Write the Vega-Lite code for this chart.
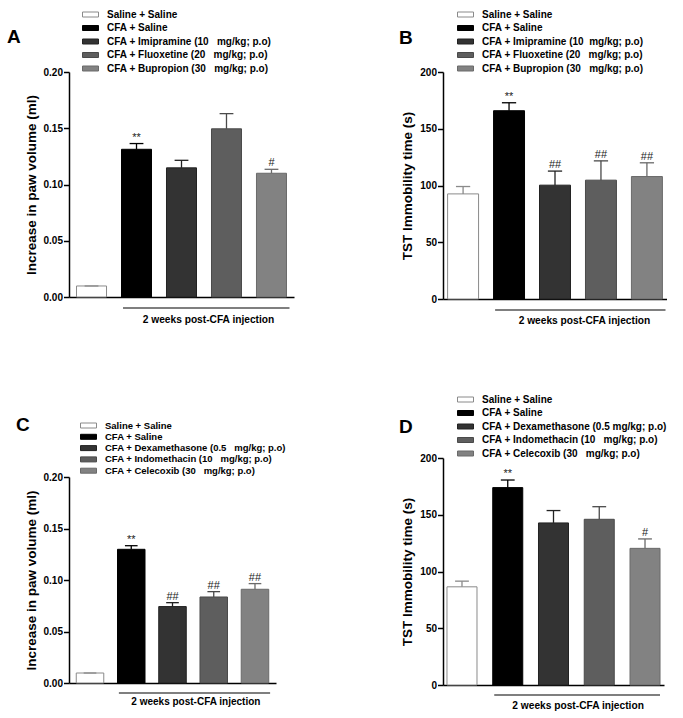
{
  "$schema": "https://vega.github.io/schema/vega-lite/v6.json",
  "background": "white",
  "padding": {"left": 7, "top": 9, "right": 0, "bottom": 0},
  "spacing": 105,
  "resolve": {"scale": {"x": "independent", "y": "independent", "fill": "independent", "stroke": "independent"}, "legend": {"fill": "independent", "stroke": "independent"}},
  "hconcat": [
    {
      "spacing": 90,
      "resolve": {"scale": {"x": "independent", "y": "independent", "fill": "independent", "stroke": "independent"}, "legend": {"fill": "independent", "stroke": "independent"}},
      "vconcat": [
        {
          "width": 225, "height": 225,
          "title": {"text": "A", "dx": -62, "offset": 0, "dy": 38},
          "data": {"values": [
            {"g": "Saline + Saline", "mean": 0.0098, "upper": 0.0098, "sig": ""},
            {"g": "CFA + Saline", "mean": 0.1313, "upper": 0.1364, "sig": "**"},
            {"g": "CFA + Imipramine (10\u00a0\u00a0 mg/kg; p.o)", "mean": 0.1148, "upper": 0.1215, "sig": ""},
            {"g": "CFA + Fluoxetine (20\u00a0\u00a0 mg/kg; p.o)", "mean": 0.1495, "upper": 0.163, "sig": ""},
            {"g": "CFA + Bupropion (30\u00a0\u00a0 mg/kg; p.o)", "mean": 0.110, "upper": 0.1135, "sig": "#"}
          ]},
          "layer": [
            {
              "mark": {"type": "bar", "strokeWidth": 1},
              "encoding": {
                "x": {"field": "g", "type": "nominal", "scale": {"domain": ["Saline + Saline", "CFA + Saline", "CFA + Imipramine (10\u00a0\u00a0 mg/kg; p.o)", "CFA + Fluoxetine (20\u00a0\u00a0 mg/kg; p.o)", "CFA + Bupropion (30\u00a0\u00a0 mg/kg; p.o)"], "paddingInner": 0.333, "paddingOuter": 0.167}, "axis": {"labels": false, "ticks": false, "title": null}},
                "y": {"field": "mean", "type": "quantitative", "scale": {"domain": [0, 0.2], "nice": false}, "axis": {"values": [0, 0.05, 0.1, 0.15, 0.2], "format": ".2f", "title": "Increase in paw volume (ml)"}},
                "fill": {"field": "g", "type": "nominal", "scale": {"domain": ["Saline + Saline", "CFA + Saline", "CFA + Imipramine (10\u00a0\u00a0 mg/kg; p.o)", "CFA + Fluoxetine (20\u00a0\u00a0 mg/kg; p.o)", "CFA + Bupropion (30\u00a0\u00a0 mg/kg; p.o)"], "range": ["#ffffff", "#000000", "#333333", "#5e5e5e", "#828282"]}, "legend": {"orient": "none", "legendX": 16, "legendY": -63}},
                "stroke": {"field": "g", "type": "nominal", "scale": {"domain": ["Saline + Saline", "CFA + Saline", "CFA + Imipramine (10\u00a0\u00a0 mg/kg; p.o)", "CFA + Fluoxetine (20\u00a0\u00a0 mg/kg; p.o)", "CFA + Bupropion (30\u00a0\u00a0 mg/kg; p.o)"], "range": ["#8a8a8a", "#000000", "#222222", "#4a4a4a", "#6a6a6a"]}, "legend": null}
              }
            },
            {
              "mark": {"type": "rule", "strokeWidth": 1.3},
              "encoding": {
                "x": {"field": "g", "type": "nominal"},
                "y": {"field": "mean", "type": "quantitative"},
                "y2": {"field": "upper"},
                "stroke": {"field": "g", "type": "nominal", "legend": null}
              }
            },
            {
              "mark": {"type": "rule", "strokeWidth": 1.3},
              "encoding": {
                "x": {"field": "g", "type": "nominal", "bandPosition": 0.27},
                "x2": {"field": "g", "bandPosition": 0.73},
                "y": {"field": "upper", "type": "quantitative"},
                "stroke": {"field": "g", "type": "nominal", "legend": null}
              }
            },
            {
              "mark": {"type": "text", "baseline": "bottom", "dy": -1, "fontSize": 11, "fill": "#222222"},
              "encoding": {
                "x": {"field": "g", "type": "nominal"},
                "y": {"field": "upper", "type": "quantitative"},
                "text": {"field": "sig"}
              }
            },
            {
              "data": {"values": [{"from": "CFA + Saline", "to": "CFA + Bupropion (30\u00a0\u00a0 mg/kg; p.o)", "mid": "CFA + Imipramine (10\u00a0\u00a0 mg/kg; p.o)", "note": "2 weeks post-CFA injection"}]},
              "layer": [
                {"mark": {"type": "rule", "strokeWidth": 1.2, "color": "black"},
                 "encoding": {"x": {"field": "from", "type": "nominal", "bandPosition": 0.05}, "x2": {"field": "to", "bandPosition": 1.1}, "y": {"datum": -0.0098, "type": "quantitative"}}},
                {"mark": {"type": "text", "fontSize": 10.2, "fontWeight": "bold", "fill": "black", "baseline": "middle"},
                 "encoding": {"x": {"field": "mid", "type": "nominal", "bandPosition": 1.4}, "y": {"datum": -0.0205, "type": "quantitative"}, "text": {"field": "note"}}}
              ]
            }
          ]
        },
        {
          "width": 207, "height": 206,
          "title": {"text": "C", "dx": -53, "offset": 0, "dy": 15},
          "data": {"values": [
            {"g": "Saline + Saline", "mean": 0.0097, "upper": 0.0097, "sig": ""},
            {"g": "CFA + Saline", "mean": 0.1298, "upper": 0.1333, "sig": "**"},
            {"g": "CFA + Dexamethasone (0.5\u00a0\u00a0 mg/kg; p.o)", "mean": 0.0742, "upper": 0.078, "sig": "##"},
            {"g": "CFA + Indomethacin (10\u00a0\u00a0 mg/kg; p.o)", "mean": 0.0835, "upper": 0.0887, "sig": "##"},
            {"g": "CFA + Celecoxib (30\u00a0\u00a0 mg/kg; p.o)", "mean": 0.091, "upper": 0.0965, "sig": "##"}
          ]},
          "layer": [
            {
              "mark": {"type": "bar", "strokeWidth": 1},
              "encoding": {
                "x": {"field": "g", "type": "nominal", "scale": {"domain": ["Saline + Saline", "CFA + Saline", "CFA + Dexamethasone (0.5\u00a0\u00a0 mg/kg; p.o)", "CFA + Indomethacin (10\u00a0\u00a0 mg/kg; p.o)", "CFA + Celecoxib (30\u00a0\u00a0 mg/kg; p.o)"], "paddingInner": 0.333, "paddingOuter": 0.176}, "axis": {"labels": false, "ticks": false, "title": null}},
                "y": {"field": "mean", "type": "quantitative", "scale": {"domain": [0, 0.2], "nice": false}, "axis": {"values": [0, 0.05, 0.1, 0.15, 0.2], "format": ".2f", "title": "Increase in paw volume (ml)"}},
                "fill": {"field": "g", "type": "nominal", "scale": {"domain": ["Saline + Saline", "CFA + Saline", "CFA + Dexamethasone (0.5\u00a0\u00a0 mg/kg; p.o)", "CFA + Indomethacin (10\u00a0\u00a0 mg/kg; p.o)", "CFA + Celecoxib (30\u00a0\u00a0 mg/kg; p.o)"], "range": ["#ffffff", "#000000", "#333333", "#5e5e5e", "#828282"]}, "legend": {"orient": "none", "legendX": 14, "legendY": -57, "labelFontSize": 9.5, "rowPadding": 1.3}},
                "stroke": {"field": "g", "type": "nominal", "scale": {"domain": ["Saline + Saline", "CFA + Saline", "CFA + Dexamethasone (0.5\u00a0\u00a0 mg/kg; p.o)", "CFA + Indomethacin (10\u00a0\u00a0 mg/kg; p.o)", "CFA + Celecoxib (30\u00a0\u00a0 mg/kg; p.o)"], "range": ["#8a8a8a", "#000000", "#222222", "#4a4a4a", "#6a6a6a"]}, "legend": null}
              }
            },
            {
              "mark": {"type": "rule", "strokeWidth": 1.3},
              "encoding": {
                "x": {"field": "g", "type": "nominal"},
                "y": {"field": "mean", "type": "quantitative"},
                "y2": {"field": "upper"},
                "stroke": {"field": "g", "type": "nominal", "legend": null}
              }
            },
            {
              "mark": {"type": "rule", "strokeWidth": 1.3},
              "encoding": {
                "x": {"field": "g", "type": "nominal", "bandPosition": 0.27},
                "x2": {"field": "g", "bandPosition": 0.73},
                "y": {"field": "upper", "type": "quantitative"},
                "stroke": {"field": "g", "type": "nominal", "legend": null}
              }
            },
            {
              "mark": {"type": "text", "baseline": "bottom", "dy": -1, "fontSize": 11, "fill": "#222222"},
              "encoding": {
                "x": {"field": "g", "type": "nominal"},
                "y": {"field": "upper", "type": "quantitative"},
                "text": {"field": "sig"}
              }
            },
            {
              "data": {"values": [{"from": "CFA + Saline", "to": "CFA + Celecoxib (30\u00a0\u00a0 mg/kg; p.o)", "mid": "CFA + Dexamethasone (0.5\u00a0\u00a0 mg/kg; p.o)", "note": "2 weeks post-CFA injection"}]},
              "layer": [
                {"mark": {"type": "rule", "strokeWidth": 1.2, "color": "black"},
                 "encoding": {"x": {"field": "from", "type": "nominal", "bandPosition": 0.05}, "x2": {"field": "to", "bandPosition": 1.05}, "y": {"datum": -0.0097, "type": "quantitative"}}},
                {"mark": {"type": "text", "fontSize": 10, "fontWeight": "bold", "fill": "black", "baseline": "middle"},
                 "encoding": {"x": {"field": "mid", "type": "nominal", "bandPosition": 1.35}, "y": {"datum": -0.0184, "type": "quantitative"}, "text": {"field": "note"}}}
              ]
            }
          ]
        }
      ]
    },
    {
      "spacing": 67,
      "resolve": {"scale": {"x": "independent", "y": "independent", "fill": "independent", "stroke": "independent"}, "legend": {"fill": "independent", "stroke": "independent"}},
      "vconcat": [
        {
          "width": 224, "height": 227,
          "title": {"text": "B", "dx": -44, "offset": 0, "dy": 39},
          "data": {"values": [
            {"g": "Saline + Saline", "mean": 92.6, "upper": 99.1, "sig": ""},
            {"g": "CFA + Saline", "mean": 165.9, "upper": 172.9, "sig": "**"},
            {"g": "CFA + Imipramine (10\u00a0 mg/kg; p.o)", "mean": 100.3, "upper": 112.7, "sig": "##"},
            {"g": "CFA + Fluoxetine (20\u00a0\u00a0 mg/kg; p.o)", "mean": 104.7, "upper": 121.7, "sig": "##"},
            {"g": "CFA + Bupropion (30\u00a0\u00a0 mg/kg; p.o)", "mean": 107.9, "upper": 120, "sig": "##"}
          ]},
          "layer": [
            {
              "mark": {"type": "bar", "strokeWidth": 1},
              "encoding": {
                "x": {"field": "g", "type": "nominal", "scale": {"domain": ["Saline + Saline", "CFA + Saline", "CFA + Imipramine (10\u00a0 mg/kg; p.o)", "CFA + Fluoxetine (20\u00a0\u00a0 mg/kg; p.o)", "CFA + Bupropion (30\u00a0\u00a0 mg/kg; p.o)"], "paddingInner": 0.326, "paddingOuter": 0.1}, "axis": {"labels": false, "ticks": false, "title": null}},
                "y": {"field": "mean", "type": "quantitative", "scale": {"domain": [0, 200], "nice": false}, "axis": {"values": [0, 50, 100, 150, 200], "title": "TST Immobility time (s)"}},
                "fill": {"field": "g", "type": "nominal", "scale": {"domain": ["Saline + Saline", "CFA + Saline", "CFA + Imipramine (10\u00a0 mg/kg; p.o)", "CFA + Fluoxetine (20\u00a0\u00a0 mg/kg; p.o)", "CFA + Bupropion (30\u00a0\u00a0 mg/kg; p.o)"], "range": ["#ffffff", "#000000", "#333333", "#5e5e5e", "#828282"]}, "legend": {"orient": "none", "legendX": 17, "legendY": -63}},
                "stroke": {"field": "g", "type": "nominal", "scale": {"domain": ["Saline + Saline", "CFA + Saline", "CFA + Imipramine (10\u00a0 mg/kg; p.o)", "CFA + Fluoxetine (20\u00a0\u00a0 mg/kg; p.o)", "CFA + Bupropion (30\u00a0\u00a0 mg/kg; p.o)"], "range": ["#8a8a8a", "#000000", "#222222", "#4a4a4a", "#6a6a6a"]}, "legend": null}
              }
            },
            {
              "mark": {"type": "rule", "strokeWidth": 1.3},
              "encoding": {
                "x": {"field": "g", "type": "nominal"},
                "y": {"field": "mean", "type": "quantitative"},
                "y2": {"field": "upper"},
                "stroke": {"field": "g", "type": "nominal", "legend": null}
              }
            },
            {
              "mark": {"type": "rule", "strokeWidth": 1.3},
              "encoding": {
                "x": {"field": "g", "type": "nominal", "bandPosition": 0.27},
                "x2": {"field": "g", "bandPosition": 0.73},
                "y": {"field": "upper", "type": "quantitative"},
                "stroke": {"field": "g", "type": "nominal", "legend": null}
              }
            },
            {
              "mark": {"type": "text", "baseline": "bottom", "dy": -1, "fontSize": 11, "fill": "#222222"},
              "encoding": {
                "x": {"field": "g", "type": "nominal"},
                "y": {"field": "upper", "type": "quantitative"},
                "text": {"field": "sig"}
              }
            },
            {
              "data": {"values": [{"from": "CFA + Saline", "to": "CFA + Bupropion (30\u00a0\u00a0 mg/kg; p.o)", "mid": "CFA + Imipramine (10\u00a0 mg/kg; p.o)", "note": "2 weeks post-CFA injection"}]},
              "layer": [
                {"mark": {"type": "rule", "strokeWidth": 1.2, "color": "black"},
                 "encoding": {"x": {"field": "from", "type": "nominal", "bandPosition": 0.05}, "x2": {"field": "to", "bandPosition": 1.1}, "y": {"datum": -9.7, "type": "quantitative"}}},
                {"mark": {"type": "text", "fontSize": 10.2, "fontWeight": "bold", "fill": "black", "baseline": "middle"},
                 "encoding": {"x": {"field": "mid", "type": "nominal", "bandPosition": 1.45}, "y": {"datum": -19.5, "type": "quantitative"}, "text": {"field": "note"}}}
              ]
            }
          ]
        },
        {
          "width": 221, "height": 227,
          "title": {"text": "D", "dx": -44, "offset": 0, "dy": 43},
          "data": {"values": [
            {"g": "Saline + Saline", "mean": 86.5, "upper": 91.5, "sig": ""},
            {"g": "CFA + Saline", "mean": 173.9, "upper": 180.6, "sig": "**"},
            {"g": "CFA + Dexamethasone (0.5 mg/kg; p.o)", "mean": 142.8, "upper": 153.7, "sig": ""},
            {"g": "CFA + Indomethacin (10\u00a0\u00a0 mg/kg; p.o)", "mean": 146.0, "upper": 157.1, "sig": ""},
            {"g": "CFA + Celecoxib (30\u00a0\u00a0 mg/kg; p.o)", "mean": 120.4, "upper": 128.7, "sig": "#"}
          ]},
          "layer": [
            {
              "mark": {"type": "bar", "strokeWidth": 1},
              "encoding": {
                "x": {"field": "g", "type": "nominal", "scale": {"domain": ["Saline + Saline", "CFA + Saline", "CFA + Dexamethasone (0.5 mg/kg; p.o)", "CFA + Indomethacin (10\u00a0\u00a0 mg/kg; p.o)", "CFA + Celecoxib (30\u00a0\u00a0 mg/kg; p.o)"], "paddingInner": 0.344, "paddingOuter": 0.087}, "axis": {"labels": false, "ticks": false, "title": null}},
                "y": {"field": "mean", "type": "quantitative", "scale": {"domain": [0, 200], "nice": false}, "axis": {"values": [0, 50, 100, 150, 200], "title": "TST Immobility time (s)"}},
                "fill": {"field": "g", "type": "nominal", "scale": {"domain": ["Saline + Saline", "CFA + Saline", "CFA + Dexamethasone (0.5 mg/kg; p.o)", "CFA + Indomethacin (10\u00a0\u00a0 mg/kg; p.o)", "CFA + Celecoxib (30\u00a0\u00a0 mg/kg; p.o)"], "range": ["#ffffff", "#000000", "#333333", "#5e5e5e", "#828282"]}, "legend": {"orient": "none", "legendX": 17, "legendY": -64}},
                "stroke": {"field": "g", "type": "nominal", "scale": {"domain": ["Saline + Saline", "CFA + Saline", "CFA + Dexamethasone (0.5 mg/kg; p.o)", "CFA + Indomethacin (10\u00a0\u00a0 mg/kg; p.o)", "CFA + Celecoxib (30\u00a0\u00a0 mg/kg; p.o)"], "range": ["#8a8a8a", "#000000", "#222222", "#4a4a4a", "#6a6a6a"]}, "legend": null}
              }
            },
            {
              "mark": {"type": "rule", "strokeWidth": 1.3},
              "encoding": {
                "x": {"field": "g", "type": "nominal"},
                "y": {"field": "mean", "type": "quantitative"},
                "y2": {"field": "upper"},
                "stroke": {"field": "g", "type": "nominal", "legend": null}
              }
            },
            {
              "mark": {"type": "rule", "strokeWidth": 1.3},
              "encoding": {
                "x": {"field": "g", "type": "nominal", "bandPosition": 0.27},
                "x2": {"field": "g", "bandPosition": 0.73},
                "y": {"field": "upper", "type": "quantitative"},
                "stroke": {"field": "g", "type": "nominal", "legend": null}
              }
            },
            {
              "mark": {"type": "text", "baseline": "bottom", "dy": -1, "fontSize": 11, "fill": "#222222"},
              "encoding": {
                "x": {"field": "g", "type": "nominal"},
                "y": {"field": "upper", "type": "quantitative"},
                "text": {"field": "sig"}
              }
            },
            {
              "data": {"values": [{"from": "CFA + Saline", "to": "CFA + Celecoxib (30\u00a0\u00a0 mg/kg; p.o)", "mid": "CFA + Dexamethasone (0.5 mg/kg; p.o)", "note": "2 weeks post-CFA injection"}]},
              "layer": [
                {"mark": {"type": "rule", "strokeWidth": 1.2, "color": "black"},
                 "encoding": {"x": {"field": "from", "type": "nominal", "bandPosition": 0.05}, "x2": {"field": "to", "bandPosition": 1.0}, "y": {"datum": -8.8, "type": "quantitative"}}},
                {"mark": {"type": "text", "fontSize": 10.2, "fontWeight": "bold", "fill": "black", "baseline": "middle"},
                 "encoding": {"x": {"field": "mid", "type": "nominal", "bandPosition": 1.32}, "y": {"datum": -18.5, "type": "quantitative"}, "text": {"field": "note"}}}
              ]
            }
          ]
        }
      ]
    }
  ],
  "config": {
    "font": "Liberation Sans",
    "view": {"stroke": null},
    "title": {"fontSize": 19, "fontWeight": "bold", "color": "black", "anchor": "start", "frame": "group", "baseline": "alphabetic"},
    "axis": {"domainColor": "black", "domainWidth": 1.5, "tickColor": "black", "tickWidth": 1.5, "tickSize": 5.5, "labelFontSize": 10, "labelFontWeight": "bold", "labelColor": "black", "labelPadding": 1, "titleFontSize": 13.5, "titleFontWeight": "bold", "titleColor": "black", "titlePadding": 5, "grid": false},
    "legend": {"title": null, "padding": 0, "labelFontSize": 10, "labelFontWeight": "bold", "labelColor": "black", "labelOffset": 11, "symbolType": "M-1.6,-0.5L1.6,-0.5L1.6,0.5L-1.6,0.5Z", "symbolSize": 100, "symbolStrokeColor": "#333333", "symbolStrokeWidth": 1, "rowPadding": 2.5, "labelLimit": 400}
  }
}
